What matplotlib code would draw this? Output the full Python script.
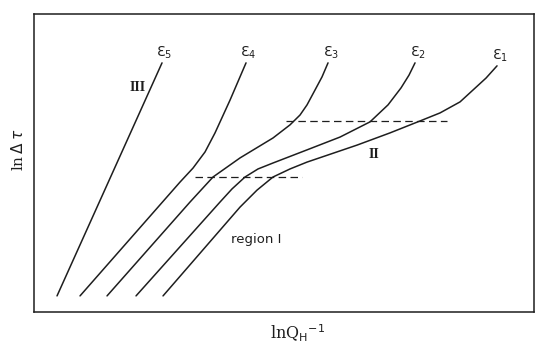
import matplotlib.pyplot as plt

# strain-rate curves, ln(dtau) against ln(Q^-1), arbitrary units
eps5_x = [4.6, 25.6]
eps5_y = [5.4, 83.6]

eps4_x = [9.2, 29.2, 31.8, 34.2, 36.2, 39.2, 42.4]
eps4_y = [5.4, 43.6, 48.3, 53.7, 60.1, 71.1, 83.6]

eps3_x = [14.6, 31.2, 35.8, 41.2, 47.8, 51.2, 53.2, 54.6, 56.2, 57.6, 58.8]
eps3_y = [5.4, 36.9, 45.3, 51.7, 58.4, 62.8, 66.1, 69.5, 74.5, 78.9, 83.6]

eps2_x = [20.4, 37.2, 39.6, 42.2, 44.8, 47.8, 54.6, 61.2, 67.2, 70.8, 73.4, 75.0, 76.2]
eps2_y = [5.4, 36.9, 41.3, 45.3, 48.0, 50.0, 54.4, 58.7, 63.8, 69.5, 75.2, 79.5, 83.6]

eps1_x = [25.8, 41.2, 44.6, 47.8, 51.2, 54.6, 64.6, 71.2, 77.2, 81.2, 85.2, 87.8, 90.4, 92.6]
eps1_y = [5.4, 35.2, 40.9, 45.3, 48.0, 50.3, 56.0, 60.1, 64.1, 66.8, 70.5, 74.5, 78.5, 82.6]

curves = [(eps1_x, eps1_y), (eps2_x, eps2_y), (eps3_x, eps3_y), (eps4_x, eps4_y), (eps5_x, eps5_y)]
curve_labels = ['1', '2', '3', '4', '5']

# region boundaries
lower_level = 45.3
lower_span = (32.2, 53.6)
upper_level = 64.1
upper_span = (50.4, 82.6)

ink = '#1e1e1e'

fig = plt.figure(figsize=(5.35, 3.47), dpi=100)
ax = fig.add_axes([0.0636, 0.1009, 0.9346, 0.8588])

for (x, y), lab in zip(curves, curve_labels):
    ax.plot(x, y, color=ink, lw=1.1, solid_joinstyle='round', solid_capstyle='round')
    ax.text(x[-1] + 0.5, y[-1] + 3.4, 'Ɛ$_{' + lab + '}$', ha='center', va='center',
            fontsize=10, color=ink)

ax.hlines(lower_level, *lower_span, colors=ink, lw=0.9, linestyles=(0, (6, 3.5)))
ax.hlines(upper_level, *upper_span, colors=ink, lw=0.9, linestyles=(0, (6, 3.5)))

ax.text(20.8, 75.2, 'III', ha='center', va='center', fontsize=10, fontweight='bold',
        family='Liberation Serif', color=ink)
ax.text(68.0, 52.7, 'II', ha='center', va='center', fontsize=10, fontweight='bold',
        family='Liberation Serif', color=ink)
ax.text(44.4, 24.2, 'region I', ha='center', va='center', fontsize=9.5, color=ink)

ax.set_xlim(0, 100)
ax.set_ylim(0, 100)
ax.set_xticks([])
ax.set_yticks([])
for sp in ax.spines.values():
    sp.set_linewidth(1.1)
    sp.set_color(ink)

fig.text(0.034, 0.568, r'ln$\,\Delta\;\tau$', rotation=90, ha='center', va='center',
         fontsize=11, family='DejaVu Serif', color=ink)
fig.text(0.556, 0.04, r'lnQ$_{\rm H}$$^{-1}$', ha='center', va='center',
         fontsize=11.5, family='DejaVu Serif', color=ink)

fig.savefig('out.png', dpi=100, facecolor='white')
